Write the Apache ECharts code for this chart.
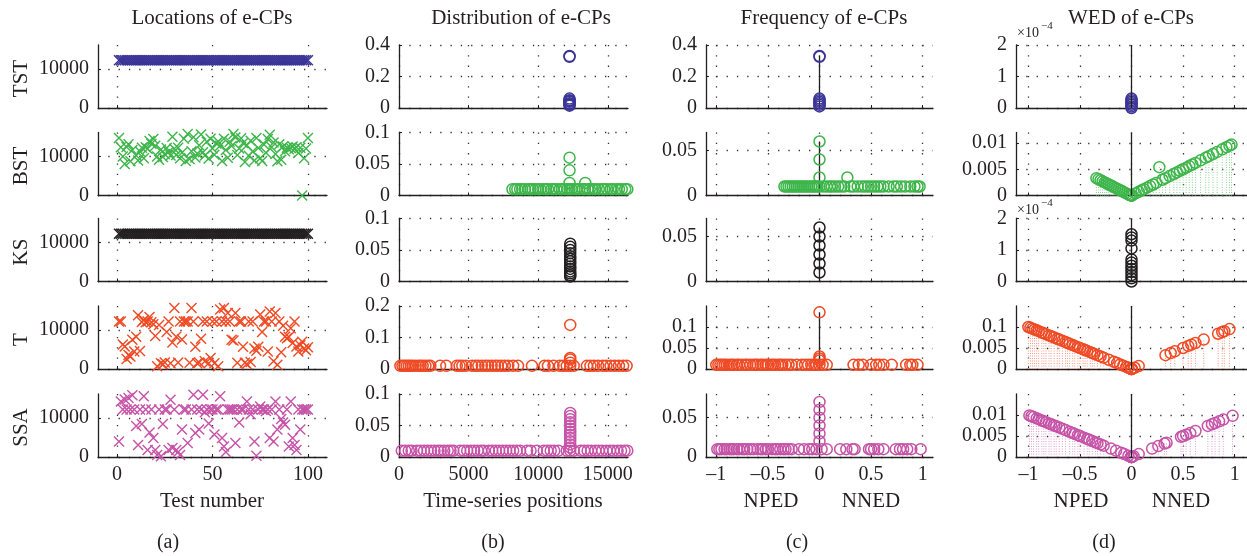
<!DOCTYPE html>
<html><head><meta charset="utf-8">
<script src="https://cdn.jsdelivr.net/npm/echarts@6/dist/echarts.min.js"></script>
<style>html,body{margin:0;padding:0;background:#fff}#c{width:1247px;height:556px}</style>
</head><body><div id="c"></div><script>
// ---------------- DATA ----------------
const methods = ['TST', 'BST', 'KS', 'T', 'SSA'];
const columnTitles = ['Locations of e-CPs', 'Distribution of e-CPs', 'Frequency of e-CPs', 'WED of e-CPs'];
const panelLetters = ['(a)', '(b)', '(c)', '(d)'];

// (a) locations of e-CPs for test numbers 1..100
const locTST = [12300,12290,12300,12290,12300,12290,12300,12290,12300,12290,12300,12290,12300,12290,12300,12290,12300,12290,12300,12290,
12300,12290,12300,12290,12300,12290,12300,12290,12300,12290,12300,12290,12300,12290,12300,12290,12300,12290,12300,12290,
12300,12290,12300,12290,12300,12290,12300,12290,12300,12290,12300,12290,12300,12290,12300,12290,12300,12290,12300,12290,
12300,12290,12300,12290,12300,12290,12300,12290,12300,12290,12300,12290,12300,12290,12300,12290,12300,12290,12300,12290,
12300,12290,12300,12290,12300,12290,12300,12290,12300,12290,12300,12290,12300,12290,12300,12290,12300,12290,12300,12290];
const locBST = [14800,12400,10000,8100,12500,13200,8800,11700,16300,10300,
9000,11300,12300,9600,12400,12000,14000,13300,14500,12800,
10000,9200,11800,9900,10600,12200,11200,10300,15100,12000,
10400,12300,9600,11000,14600,8900,15800,9400,11400,15000,
9800,10800,12900,15700,11100,10300,13800,9500,14600,12100,
10500,13400,13900,12800,8900,14600,11700,9700,13800,12700,
15800,14900,10400,12100,14700,13500,8600,12900,10200,14100,
11300,9000,14800,12200,9600,8900,13100,11000,14500,15600,
12400,13600,10700,8800,13200,9200,12600,11400,12300,11900,
12200,12600,12000,12400,10900,12300,0,9600,12100,14800];
const locKS = [12300,12290,12300,12290,12300,12290,12300,12290,12300,12290,12300,12290,12300,12290,12300,12290,12300,12290,12300,12290,
12300,12290,12300,12290,12300,12290,12300,12290,12300,12290,12300,12290,12300,12290,12300,12290,12300,12290,12300,12290,
12300,12290,12300,12290,12300,12290,12300,12290,12300,12290,12300,12290,12300,12290,12300,12290,12300,12290,12300,12290,
12300,12290,12300,12290,12300,12290,12300,12290,12300,12290,12300,12290,12300,12290,12300,12290,12300,12290,12300,12290,
12300,12290,12300,12290,12300,12290,12300,12290,12300,12290,12300,12290,12300,12290,12300,12290,12300,12290,12300,12290];
const locT = [12200,12200,6300,5800,2600,3600,3200,7500,4500,8300,
13800,4600,12100,12600,12000,12200,13400,12000,11500,8500,
700,11300,1500,1200,1700,9500,12200,1500,6800,15700,
8300,1700,12200,7600,12200,12200,12200,1600,15700,12200,
5700,1500,1700,7800,12200,2000,12200,1500,2800,12200,
1500,12200,700,15300,12200,15700,12200,14400,12200,7500,
7300,14400,1600,12200,12200,5700,1600,1300,12200,1800,
12200,5300,4700,5700,14000,9500,12200,12200,4500,14800,
12200,2000,14400,1100,12200,4300,11100,8300,7900,8200,
10500,6700,12200,5800,4500,6100,7000,5300,4800,5600];
const locSSA = [4000,14300,12200,14800,12200,15200,12200,15900,12200,8000,
3100,12200,8500,15600,12200,1800,6300,12200,4900,1800,
500,12200,200,8500,12200,12200,1800,14700,2300,12200,
1800,1300,500,7100,12200,12200,3600,16500,12200,16000,
6200,12200,7100,12200,16000,11500,12200,8600,12200,12200,
5800,12200,12200,15600,4900,2700,1300,12200,12200,12200,
12200,3600,12200,8900,12200,12200,16500,14300,12200,11000,
12200,4000,300,12200,13000,12200,12200,11800,12200,4900,
12200,4000,14300,7100,12200,9800,8900,8300,12200,2700,
14300,4900,3100,1800,12200,7100,12200,12200,12200,12200];

// (b) distribution: [time-series position, frequency]
const singleFreq = 0.01;
const distTSTStack = [[12250,0.33],[12250,0.325],[12250,0.06],[12250,0.05],[12250,0.045],[12250,0.04],[12250,0.03],[12250,0.025],[12250,0.02],[12250,0.015]];
const distBSTPos = [8150,8350,8500,8700,8850,9050,9300,9450,9600,9800,10000,10150,10400,10550,10700,10950,11100,11300,11550,11700,11900,12100,12250,12400,12600,12750,12950,13200,13350,13550,13700,13900,14100,14350,14600,14750,14950,15200,15350,15600,15800,16000,16250,16400];
const distBSTStack = [[12250,0.02],[12250,0.04],[12250,0.06],[13380,0.02]];
const distKSStack = [[12300,0.008],[12300,0.01],[12300,0.013],[12300,0.016],[12300,0.02],[12300,0.024],[12300,0.028],[12300,0.032],[12300,0.036],[12300,0.04],[12300,0.045],[12300,0.05],[12300,0.055],[12300,0.06]];
const distTPos = [100,250,400,550,700,850,1000,1200,1400,1550,1700,1900,2100,2250,2950,3400,4150,4350,4550,4800,5250,5500,5700,5950,6200,6400,6650,6900,7100,7350,7600,7850,8200,8550,9550,10450,10700,11100,11550,11800,12050,12300,12550,13500,13750,14000,14300,14650,14900,15200,15500,15800,16100,16350];
const distTStack = [[12300,0.14],[12300,0.035],[12300,0.03],[12300,0.02]];
const distSSAPos = [200,450,700,900,1300,1550,1800,2050,2300,2550,2800,3000,3250,3500,3700,3900,4400,4650,4900,5150,5400,5650,5900,6100,6450,6700,6950,7200,7450,7700,7950,8200,8450,8700,9200,9450,9900,10400,10650,10900,11150,11450,12050,12300,12550,13050,13300,13550,13800,14100,14350,14600,14900,15150,15400,15700,15950,16200,16400];
const distSSAStack = [[12300,0.015],[12300,0.02],[12300,0.025],[12300,0.03],[12300,0.035],[12300,0.04],[12300,0.045],[12300,0.05],[12300,0.055],[12300,0.06],[12300,0.065],[12300,0.07]];

// (c) frequency vs NPED/NNED, (d) WED vs NPED/NNED
const freqTSTStack = [0.33,0.325,0.06,0.05,0.04,0.03,0.02,0.01];
const wedTSTStack = [0,0.000005,0.00001,0.000015,0.00002,0.000025,0.00003];
const nedBST = [-0.34,-0.32,-0.3,-0.28,-0.26,-0.24,-0.22,-0.2,-0.18,-0.16,-0.14,-0.12,-0.1,-0.08,-0.06,-0.04,-0.02,0,0.04,0.07,0.1,0.12,0.15,0.18,0.21,0.24,0.3,0.33,0.37,0.41,0.44,0.47,0.5,0.53,0.56,0.59,0.62,0.67,0.72,0.75,0.79,0.83,0.88,0.92,0.95,0.97];
const wedBST = [0.0033,0.0031,0.0029,0.0027,0.0025,0.0023,0.0021,0.0019,0.0017,0.0015,0.0013,0.0011,0.0009,0.0007,0.0005,0.0003,0.0001,0.00005,0.0004,0.0007,0.001,0.0012,0.0015,0.0018,0.0021,0.0024,0.003,0.0033,0.0037,0.0041,0.0044,0.0047,0.005,0.0053,0.0056,0.0059,0.0062,0.0067,0.0072,0.0075,0.0079,0.0083,0.0088,0.0092,0.0095,0.0097];
const freqBSTStack = [[0,0.02],[0,0.04],[0,0.06],[0.27,0.02]];
const wedBSTStack = [[0,0],[0,0],[0,0],[0.27,0.0054]];
const freqKSStack = [0.01,0.02,0.03,0.04,0.05,0.06];
const wedKSStack = [0,0.00001,0.00002,0.00003,0.00004,0.00005,0.00006,0.00007,0.000105,0.00013,0.00014,0.00015];
const nedT = [-1,-0.98,-0.96,-0.94,-0.92,-0.9,-0.87,-0.85,-0.83,-0.8,-0.78,-0.75,-0.72,-0.7,-0.67,-0.64,-0.62,-0.6,-0.57,-0.55,-0.52,-0.5,-0.47,-0.45,-0.43,-0.4,-0.38,-0.36,-0.33,-0.3,-0.27,-0.22,-0.17,-0.14,-0.11,-0.08,-0.05,-0.03,0,0.03,0.07,0.33,0.38,0.42,0.5,0.55,0.58,0.62,0.7,0.84,0.88,0.9,0.95];
const wedT = [0.01,0.0098,0.0096,0.0094,0.0092,0.009,0.0087,0.0085,0.0083,0.008,0.0078,0.0075,0.0072,0.007,0.0067,0.0064,0.0062,0.006,0.0057,0.0055,0.0052,0.005,0.0047,0.0045,0.0043,0.004,0.0038,0.0036,0.0033,0.003,0.0027,0.0022,0.0017,0.0014,0.0011,0.0008,0.0005,0.0003,0.0001,0.0003,0.0007,0.0033,0.0038,0.0042,0.005,0.0055,0.0058,0.0062,0.007,0.0084,0.0088,0.009,0.0095];
const freqTStack = [[0,0.135],[0,0.03],[0,0.025],[0,0.02]];
const wedTStack = [[0,0],[0,0],[0,0],[0,0]];
const nedSSA = [-0.99,-0.97,-0.95,-0.92,-0.9,-0.87,-0.85,-0.83,-0.8,-0.78,-0.75,-0.73,-0.7,-0.67,-0.64,-0.6,-0.57,-0.55,-0.52,-0.5,-0.46,-0.43,-0.41,-0.38,-0.35,-0.33,-0.3,-0.27,-0.2,-0.15,-0.1,-0.07,-0.03,0.02,0.07,0.2,0.26,0.32,0.34,0.48,0.5,0.53,0.57,0.62,0.74,0.78,0.81,0.85,0.89,0.98];
const wedSSA = [0.0099,0.0097,0.0095,0.0092,0.009,0.0087,0.0085,0.0083,0.008,0.0078,0.0075,0.0073,0.007,0.0067,0.0064,0.006,0.0057,0.0055,0.0052,0.005,0.0046,0.0043,0.0041,0.0038,0.0035,0.0033,0.003,0.0027,0.002,0.0015,0.001,0.0007,0.0003,0.0002,0.0007,0.002,0.0026,0.0032,0.0034,0.0048,0.005,0.0053,0.0057,0.0062,0.0074,0.0078,0.0081,0.0085,0.0089,0.0098];
const freqSSAStack = [[0,0.02],[0,0.03],[0,0.04],[0,0.05],[0,0.06],[0,0.07]];
const wedSSAStack = [[0,0],[0,0],[0,0],[0,0],[0,0],[0,0]];

// axis ticks and labels
const xTicks = [[0,50,100],[0,5000,10000,15000],[-1,-0.5,0,0.5,1],[-1,-0.5,0,0.5,1]];
const xTickLabels = [['0','50','100'],['0','5000','10000','15000'],['–1','–0.5','0','0.5','1'],['–1','–0.5','0','0.5','1']];
const xRanges = [[-10,110],[0,16450],[-1.1,1.1],[-1.12,1.12]];
const yRanges = [
  [16200,16200,16200,16200,16200],
  [0.4,0.1,0.1,0.2,0.1],
  [0.4,0.07,0.07,0.15,0.08],
  [0.0002,0.012,0.0002,0.015,0.015]
];
const yTicks = [
  [[0,10000],[0,10000],[0,10000],[0,10000],[0,10000]],
  [[0,0.2,0.4],[0,0.05,0.1],[0,0.05,0.1],[0,0.1,0.2],[0,0.05,0.1]],
  [[0,0.2,0.4],[0,0.05],[0,0.05],[0,0.05,0.1],[0,0.05]],
  [[0,0.0001,0.0002],[0,0.005,0.01],[0,0.0001,0.0002],[0,0.005,0.01],[0,0.005,0.01]]
];
const yTickLabels = [
  [['0','10000'],['0','10000'],['0','10000'],['0','10000'],['0','10000']],
  [['0','0.2','0.4'],['0','0.05','0.1'],['0','0.05','0.1'],['0','0.1','0.2'],['0','0.05','0.1']],
  [['0','0.2','0.4'],['0','0.05'],['0','0.05'],['0','0.05','0.1'],['0','0.05']],
  [['0','1','2'],['0','0.005','0.01'],['0','1','2'],['0','0.005','0.1'],['0','0.005','0.01']]
];

// ---------------- STYLE / LAYOUT ----------------
const INK = '#231f20';
const FONT = '"Liberation Serif", "DejaVu Serif", serif';
const FS = 20;
const colors = {TST:'#3b3598', BST:'#3db54a', KS:'#231f20', T:'#ef4a24', SSA:'#c653a8'};
const stemColors = {TST:'#8c88c4', BST:'#8fd496', KS:'#888', T:'#f79a84', SSA:'#e0a2cf'};
const colLeft = [98, 399, 706, 1016], colWidth = [229, 229, 227, 231];
const rowTop = [45, 132.5, 218.5, 306, 394], rowHeight = 63;
const CROSS = 'path://M0,0L10,10M10,0L0,10';

const grids = [], xAxes = [], yAxes = [], series = [];
function gi(c, r) { return c * 5 + r; }
function fmt(ticks, labels) {
  return v => { for (let i = 0; i < ticks.length; i++) if (Math.abs(v - ticks[i]) < 1e-12) return labels[i]; return ''; };
}
const dotted = {color:'#333', type:[1.3, 9], width:1.3};
for (let c = 0; c < 4; c++) {
  for (let r = 0; r < 5; r++) {
    const g = gi(c, r);
    grids.push({left: colLeft[c], top: rowTop[r], width: colWidth[c], height: rowHeight});
    xAxes.push({type:'value', gridIndex:g, min:xRanges[c][0], max:xRanges[c][1],
      axisLine:{show:true, onZero:false, lineStyle:{color:INK, width:1.3}},
      axisTick:{show:true, inside:true, length:3, customValues:xTicks[c], lineStyle:{color:INK}},
      axisLabel:{show:r === 4, customValues:xTicks[c], formatter:fmt(xTicks[c], xTickLabels[c]), margin:8, fontFamily:FONT, fontSize:FS, color:INK},
      splitLine:{show:true, lineStyle:dotted}});
    yAxes.push({type:'value', gridIndex:g, min:0, max:yRanges[c][r],
      axisLine:{show:true, onZero:false, lineStyle:{color:INK, width:1.3}},
      axisTick:{show:true, inside:true, length:3, customValues:yTicks[c][r], lineStyle:{color:INK}},
      axisLabel:{show:true, customValues:yTicks[c][r], formatter:fmt(yTicks[c][r], yTickLabels[c][r]), margin:9, fontFamily:FONT, fontSize:FS, color:INK},
      splitLine:{show:true, lineStyle:dotted}});
  }
}
function scatter(g, data, color, symbol, size, bw) {
  return {type:'scatter', xAxisIndex:g, yAxisIndex:g, data, symbol, symbolSize:size, z:3,
    itemStyle:{color:'rgba(0,0,0,0)', borderColor:color, borderWidth:bw, opacity:1}, silent:true};
}
function stemLine(g, yMax) {
  return {type:'line', xAxisIndex:g, yAxisIndex:g, data:[[0,0],[0,yMax]], symbol:'none', z:2,
    lineStyle:{color:INK, width:1.3}, silent:true};
}
function dottedStems(g, data, color) {
  return {type:'custom', xAxisIndex:g, yAxisIndex:g, data, z:1, silent:true,
    renderItem:(p, api) => {
      const a = api.coord([api.value(0), 0]);
      const b = api.coord([api.value(0), api.value(1)]);
      return {type:'line', shape:{x1:a[0], y1:a[1], x2:b[0], y2:b[1]},
        style:{stroke:color, lineWidth:1, lineDash:[1, 1.5]}};
    }};
}
function zeroLine(g) {
  return {type:'line', xAxisIndex:g, yAxisIndex:g, data:[], silent:true,
    markLine:{silent:true, symbol:['none','none'], label:{show:false}, animation:false,
      lineStyle:{color:INK, width:1.3, type:'solid'}, data:[{xAxis:0}]}};
}

// (a)
const locs = {TST:locTST, BST:locBST, KS:locKS, T:locT, SSA:locSSA};
methods.forEach((m, r) => {
  series.push(scatter(gi(0, r), locs[m].map((v, i) => [i + 1, v]), colors[m], CROSS, 10, 1.4));
});
// (b)
const CS = 11, CB = 1.5;
const single = pos => pos.map(p => [p, singleFreq]);
series.push(scatter(gi(1,0), distTSTStack, colors.TST, 'circle', CS, CB));
series.push(scatter(gi(1,1), single(distBSTPos).concat(distBSTStack), colors.BST, 'circle', CS, CB));
series.push(scatter(gi(1,2), distKSStack, colors.KS, 'circle', CS, CB));
series.push(scatter(gi(1,3), single(distTPos).concat(distTStack), colors.T, 'circle', CS, CB));
series.push(scatter(gi(1,4), single(distSSAPos).concat(distSSAStack), colors.SSA, 'circle', CS, CB));
// (c)
const stack0 = arr => arr.map(v => [0, v]);
const maxY = arr => Math.max(...arr.map(p => p[1]));
const cTST = stack0(freqTSTStack), cBST = single(nedBST).concat(freqBSTStack), cKS = stack0(freqKSStack),
      cT = single(nedT).concat(freqTStack), cSSA = single(nedSSA).concat(freqSSAStack);
[[cTST,'TST',stack0(freqTSTStack)],[cBST,'BST',freqBSTStack.filter(p=>p[0]===0)],[cKS,'KS',stack0(freqKSStack)],[cT,'T',freqTStack],[cSSA,'SSA',freqSSAStack]]
  .forEach(([d, m, stk], r) => {
    series.push(stemLine(gi(2, r), maxY(stk)));
    series.push(scatter(gi(2, r), d, colors[m], 'circle', CS, CB));
  });
// (d)
const zip = (xs, ys) => xs.map((x, i) => [x, ys[i]]);
const dTST = stack0(wedTSTStack), dBST = zip(nedBST, wedBST).concat(wedBSTStack), dKS = stack0(wedKSStack),
      dT = zip(nedT, wedT).concat(wedTStack), dSSA = zip(nedSSA, wedSSA).concat(wedSSAStack);
[[dTST,'TST'],[dBST,'BST'],[dKS,'KS'],[dT,'T'],[dSSA,'SSA']].forEach(([d, m], r) => {
  series.push(zeroLine(gi(3, r)));
  if (m !== 'TST' && m !== 'KS') series.push(dottedStems(gi(3, r), d, stemColors[m]));
  series.push(scatter(gi(3, r), d, colors[m], 'circle', CS, CB));
});

// ---------------- TEXT ----------------
const graphic = [];
const txt = (x, y, text, size, extra) => Object.assign({type:'text', x, y, silent:true,
  style:{text, fill:INK, fontFamily:FONT, fontSize:size, align:'center', verticalAlign:'middle', textAlign:'center', textVerticalAlign:'middle'}}, extra || {});
const titleX = [212, 521, 824, 1131];
columnTitles.forEach((t, c) => graphic.push(txt(titleX[c], 18, t, FS + 1)));
const letterX = [168, 493, 797, 1104];
panelLetters.forEach((t, c) => graphic.push(txt(letterX[c], 543, t, FS)));
graphic.push(txt(212, 501, 'Test number', FS + 1));
graphic.push(txt(513, 501, 'Time-series positions', FS + 1));
graphic.push(txt(771, 501, 'NPED', FS + 1));
graphic.push(txt(871, 501, 'NNED', FS + 1));
graphic.push(txt(1081, 501, 'NPED', FS + 1));
graphic.push(txt(1181, 501, 'NNED', FS + 1));
methods.forEach((m, r) => graphic.push(txt(21, rowTop[r] + rowHeight / 2 + 2, m, FS + 1, {rotation: Math.PI / 2})));
[[0, 33], [2, 210]].forEach(([r, y]) => {
  graphic.push({type:'text', x:1017, y, silent:true, style:{text:'×10', fill:INK, fontFamily:FONT, fontSize:14, verticalAlign:'middle', textVerticalAlign:'middle'}});
  graphic.push({type:'text', x:1041, y:y - 7, silent:true, style:{text:'−4', fill:INK, fontFamily:FONT, fontSize:11, verticalAlign:'middle', textVerticalAlign:'middle'}});
});

const chart = echarts.init(document.getElementById('c'), null, {renderer:'canvas'});
chart.setOption({animation:false, backgroundColor:'#fff', grid:grids, xAxis:xAxes, yAxis:yAxes, series, graphic});
</script></body></html>
